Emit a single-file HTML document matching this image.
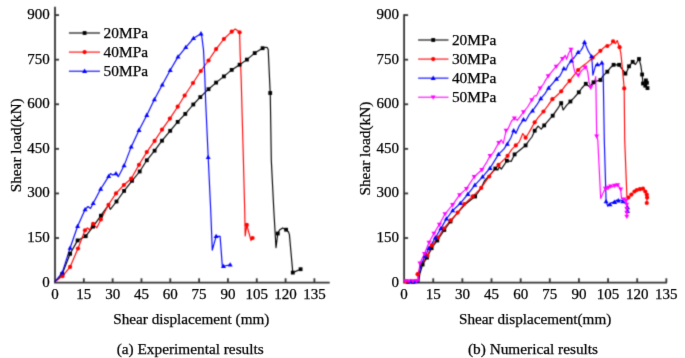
<!DOCTYPE html>
<html><head><meta charset="utf-8"><style>
html,body{margin:0;padding:0;background:#fff;width:685px;height:358px;overflow:hidden}
svg{display:block}
text{font-family:"Liberation Serif", serif;font-size:15px;fill:#000;stroke:#000;stroke-width:0.25px}
.lg{font-size:15.4px}
.cap{font-size:15.3px}
.yl{font-size:15.3px}
.ti{font-size:15.2px}
</style></head><body>
<svg width="685" height="358" viewBox="0 0 685 358">
<defs><filter id="b" filterUnits="userSpaceOnUse" x="0" y="0" width="685" height="358" color-interpolation-filters="sRGB"><feConvolveMatrix order="3" kernelMatrix="0.02768 0.11101 0.02768 0.11101 0.44521 0.11101 0.02768 0.11101 0.02768" divisor="1" edgeMode="duplicate"/></filter><filter id="t" filterUnits="userSpaceOnUse" x="0" y="0" width="685" height="358" color-interpolation-filters="sRGB"><feConvolveMatrix order="3" kernelMatrix="0.00524 0.06192 0.00524 0.06192 0.73137 0.06192 0.00524 0.06192 0.00524" divisor="1" edgeMode="none"/></filter></defs>
<g filter="url(#b)"><rect width="685" height="358" fill="#fff"/>
<path d="M55.0,6.8 V282.6 M54.1,282.6 H329.7" fill="none" stroke="#333" stroke-width="1.8"/>
<line x1="55.0" y1="238.02" x2="59.0" y2="238.02" stroke="#333" stroke-width="1.8"/>
<line x1="55.0" y1="193.43" x2="59.0" y2="193.43" stroke="#333" stroke-width="1.8"/>
<line x1="55.0" y1="148.85" x2="59.0" y2="148.85" stroke="#333" stroke-width="1.8"/>
<line x1="55.0" y1="104.27" x2="59.0" y2="104.27" stroke="#333" stroke-width="1.8"/>
<line x1="55.0" y1="59.68" x2="59.0" y2="59.68" stroke="#333" stroke-width="1.8"/>
<line x1="55.0" y1="15.10" x2="59.0" y2="15.10" stroke="#333" stroke-width="1.8"/>
<line x1="83.82" y1="282.6" x2="83.82" y2="278.3" stroke="#333" stroke-width="1.8"/>
<line x1="112.64" y1="282.6" x2="112.64" y2="278.3" stroke="#333" stroke-width="1.8"/>
<line x1="141.47" y1="282.6" x2="141.47" y2="278.3" stroke="#333" stroke-width="1.8"/>
<line x1="170.29" y1="282.6" x2="170.29" y2="278.3" stroke="#333" stroke-width="1.8"/>
<line x1="199.11" y1="282.6" x2="199.11" y2="278.3" stroke="#333" stroke-width="1.8"/>
<line x1="227.93" y1="282.6" x2="227.93" y2="278.3" stroke="#333" stroke-width="1.8"/>
<line x1="256.76" y1="282.6" x2="256.76" y2="278.3" stroke="#333" stroke-width="1.8"/>
<line x1="285.58" y1="282.6" x2="285.58" y2="278.3" stroke="#333" stroke-width="1.8"/>
<line x1="314.40" y1="282.6" x2="314.40" y2="278.3" stroke="#333" stroke-width="1.8"/>
<path d="M404.1,14.3 V282.6 M403.20000000000005,282.6 H667.0" fill="none" stroke="#333" stroke-width="1.8"/>
<line x1="404.1" y1="238.02" x2="408.1" y2="238.02" stroke="#333" stroke-width="1.8"/>
<line x1="404.1" y1="193.43" x2="408.1" y2="193.43" stroke="#333" stroke-width="1.8"/>
<line x1="404.1" y1="148.85" x2="408.1" y2="148.85" stroke="#333" stroke-width="1.8"/>
<line x1="404.1" y1="104.27" x2="408.1" y2="104.27" stroke="#333" stroke-width="1.8"/>
<line x1="404.1" y1="59.68" x2="408.1" y2="59.68" stroke="#333" stroke-width="1.8"/>
<line x1="404.1" y1="15.10" x2="408.1" y2="15.10" stroke="#333" stroke-width="1.8"/>
<line x1="433.24" y1="282.6" x2="433.24" y2="278.3" stroke="#333" stroke-width="1.8"/>
<line x1="462.38" y1="282.6" x2="462.38" y2="278.3" stroke="#333" stroke-width="1.8"/>
<line x1="491.52" y1="282.6" x2="491.52" y2="278.3" stroke="#333" stroke-width="1.8"/>
<line x1="520.66" y1="282.6" x2="520.66" y2="278.3" stroke="#333" stroke-width="1.8"/>
<line x1="549.79" y1="282.6" x2="549.79" y2="278.3" stroke="#333" stroke-width="1.8"/>
<line x1="578.93" y1="282.6" x2="578.93" y2="278.3" stroke="#333" stroke-width="1.8"/>
<line x1="608.07" y1="282.6" x2="608.07" y2="278.3" stroke="#333" stroke-width="1.8"/>
<line x1="637.21" y1="282.6" x2="637.21" y2="278.3" stroke="#333" stroke-width="1.8"/>
<line x1="666.35" y1="282.6" x2="666.35" y2="278.3" stroke="#333" stroke-width="1.8"/>
<polyline points="54.5,282.1 58.0,279.0 62.2,274.0 70.1,253.8 77.6,240.4 85.7,236.2 93.1,226.6 100.9,215.7 108.5,205.0 110.3,209.3 116.5,201.5 124.1,190.9 132.0,180.8 139.7,171.5 146.8,160.3 154.6,150.7 162.0,140.7 170.2,130.8 177.7,121.9 185.3,113.9 193.3,104.5 200.3,97.1 208.5,89.2 216.1,82.6 223.9,76.4 231.7,69.9 239.6,64.7 246.9,59.6 254.7,53.1 262.6,48.2 265.9,47.3 267.2,47.5 268.2,49.5 270.3,95.2 271.3,160.0 273.8,210.0 276.0,247.6 277.8,233.5 279.5,230.0 282.7,227.9 286.1,229.7 288.5,232.0 289.4,234.6 292.8,272.6 300.6,269.2" fill="none" stroke="#000" stroke-width="1.15" stroke-linejoin="round"/>
<polyline points="54.5,282.1 62.6,276.1 70.1,266.9 78.0,248.5 85.0,230.3 87.5,227.8 89.5,230.0 93.1,223.9 96.8,227.8 100.9,219.4 108.5,204.8 116.0,193.4 123.9,185.0 131.2,178.7 139.0,164.8 146.8,152.1 154.6,140.9 162.0,129.7 169.9,118.6 177.7,106.7 184.7,95.5 193.0,83.0 200.8,71.0 208.5,60.5 216.1,49.1 223.9,39.0 231.7,31.7 235.3,29.0 239.6,32.3 240.2,54.7 241.2,80.0 243.4,160.0 244.7,210.0 245.2,236.0 246.8,224.9 251.0,240.5 252.6,238.0" fill="none" stroke="#ff0000" stroke-width="1.15" stroke-linejoin="round"/>
<polyline points="54.5,282.1 62.2,272.8 70.1,248.0 77.6,226.3 85.1,209.6 88.0,206.5 90.5,208.5 93.2,203.3 100.7,189.0 108.7,176.4 110.5,173.6 112.6,175.0 116.0,173.6 118.3,176.7 121.6,170.5 124.1,165.6 131.2,146.9 139.0,130.2 146.8,115.2 154.4,99.5 162.3,84.8 170.2,70.3 178.0,56.9 185.8,47.3 193.5,38.3 201.0,33.7 201.8,36.2 203.5,50.0 204.8,75.9 205.6,100.0 208.2,157.3 210.7,210.0 212.3,250.2 216.1,236.4 220.1,236.4 222.4,267.0 223.5,266.3 230.2,264.8" fill="none" stroke="#0000ff" stroke-width="1.15" stroke-linejoin="round"/>
<rect x="60.3" y="272.1" width="3.8" height="3.8" fill="#000"/>
<rect x="68.2" y="251.9" width="3.8" height="3.8" fill="#000"/>
<rect x="75.7" y="238.5" width="3.8" height="3.8" fill="#000"/>
<rect x="83.8" y="234.3" width="3.8" height="3.8" fill="#000"/>
<rect x="91.2" y="224.7" width="3.8" height="3.8" fill="#000"/>
<rect x="99.0" y="213.8" width="3.8" height="3.8" fill="#000"/>
<rect x="114.6" y="199.6" width="3.8" height="3.8" fill="#000"/>
<rect x="122.2" y="189.0" width="3.8" height="3.8" fill="#000"/>
<rect x="130.1" y="178.9" width="3.8" height="3.8" fill="#000"/>
<rect x="137.8" y="169.6" width="3.8" height="3.8" fill="#000"/>
<rect x="144.9" y="158.4" width="3.8" height="3.8" fill="#000"/>
<rect x="152.7" y="148.8" width="3.8" height="3.8" fill="#000"/>
<rect x="160.1" y="138.8" width="3.8" height="3.8" fill="#000"/>
<rect x="168.3" y="128.9" width="3.8" height="3.8" fill="#000"/>
<rect x="175.8" y="120.0" width="3.8" height="3.8" fill="#000"/>
<rect x="183.4" y="112.0" width="3.8" height="3.8" fill="#000"/>
<rect x="191.4" y="102.6" width="3.8" height="3.8" fill="#000"/>
<rect x="198.4" y="95.2" width="3.8" height="3.8" fill="#000"/>
<rect x="206.6" y="87.3" width="3.8" height="3.8" fill="#000"/>
<rect x="214.2" y="80.7" width="3.8" height="3.8" fill="#000"/>
<rect x="222.0" y="74.5" width="3.8" height="3.8" fill="#000"/>
<rect x="229.8" y="68.0" width="3.8" height="3.8" fill="#000"/>
<rect x="237.7" y="62.8" width="3.8" height="3.8" fill="#000"/>
<rect x="245.0" y="57.7" width="3.8" height="3.8" fill="#000"/>
<rect x="252.8" y="51.2" width="3.8" height="3.8" fill="#000"/>
<rect x="260.7" y="46.3" width="3.8" height="3.8" fill="#000"/>
<rect x="268.3" y="91.1" width="3.8" height="3.8" fill="#000"/>
<rect x="275.9" y="231.6" width="3.8" height="3.8" fill="#000"/>
<rect x="284.2" y="227.8" width="3.8" height="3.8" fill="#000"/>
<rect x="290.9" y="270.7" width="3.8" height="3.8" fill="#000"/>
<rect x="298.7" y="267.3" width="3.8" height="3.8" fill="#000"/>
<circle cx="62.6" cy="276.1" r="2.1" fill="#ff0000"/>
<circle cx="70.1" cy="266.9" r="2.1" fill="#ff0000"/>
<circle cx="78.0" cy="248.5" r="2.1" fill="#ff0000"/>
<circle cx="85.0" cy="230.3" r="2.1" fill="#ff0000"/>
<circle cx="93.1" cy="223.9" r="2.1" fill="#ff0000"/>
<circle cx="100.9" cy="219.4" r="2.1" fill="#ff0000"/>
<circle cx="108.5" cy="204.8" r="2.1" fill="#ff0000"/>
<circle cx="116.0" cy="193.4" r="2.1" fill="#ff0000"/>
<circle cx="123.9" cy="185.0" r="2.1" fill="#ff0000"/>
<circle cx="131.2" cy="178.7" r="2.1" fill="#ff0000"/>
<circle cx="139.0" cy="164.8" r="2.1" fill="#ff0000"/>
<circle cx="146.8" cy="152.1" r="2.1" fill="#ff0000"/>
<circle cx="154.6" cy="140.9" r="2.1" fill="#ff0000"/>
<circle cx="162.0" cy="129.7" r="2.1" fill="#ff0000"/>
<circle cx="169.9" cy="118.6" r="2.1" fill="#ff0000"/>
<circle cx="177.7" cy="106.7" r="2.1" fill="#ff0000"/>
<circle cx="184.7" cy="95.5" r="2.1" fill="#ff0000"/>
<circle cx="193.0" cy="83.0" r="2.1" fill="#ff0000"/>
<circle cx="200.8" cy="71.0" r="2.1" fill="#ff0000"/>
<circle cx="208.5" cy="60.5" r="2.1" fill="#ff0000"/>
<circle cx="216.1" cy="49.1" r="2.1" fill="#ff0000"/>
<circle cx="223.9" cy="39.0" r="2.1" fill="#ff0000"/>
<circle cx="231.7" cy="31.7" r="2.1" fill="#ff0000"/>
<circle cx="239.6" cy="32.3" r="2.1" fill="#ff0000"/>
<circle cx="246.8" cy="224.9" r="2.1" fill="#ff0000"/>
<circle cx="252.6" cy="238.0" r="2.1" fill="#ff0000"/>
<polygon points="62.2,270.2 59.7,274.5 64.7,274.5" fill="#0000ff"/>
<polygon points="70.1,245.4 67.6,249.7 72.6,249.7" fill="#0000ff"/>
<polygon points="77.6,223.7 75.1,228.0 80.1,228.0" fill="#0000ff"/>
<polygon points="85.1,207.0 82.6,211.3 87.6,211.3" fill="#0000ff"/>
<polygon points="93.2,200.7 90.7,205.0 95.7,205.0" fill="#0000ff"/>
<polygon points="100.7,186.4 98.2,190.7 103.2,190.7" fill="#0000ff"/>
<polygon points="108.7,173.8 106.2,178.1 111.2,178.1" fill="#0000ff"/>
<polygon points="116.0,171.0 113.5,175.3 118.5,175.3" fill="#0000ff"/>
<polygon points="124.1,163.0 121.6,167.3 126.6,167.3" fill="#0000ff"/>
<polygon points="131.2,144.3 128.7,148.6 133.7,148.6" fill="#0000ff"/>
<polygon points="139.0,127.6 136.5,131.9 141.5,131.9" fill="#0000ff"/>
<polygon points="146.8,112.6 144.3,116.9 149.3,116.9" fill="#0000ff"/>
<polygon points="154.4,96.9 151.9,101.2 156.9,101.2" fill="#0000ff"/>
<polygon points="162.3,82.2 159.8,86.5 164.8,86.5" fill="#0000ff"/>
<polygon points="170.2,67.7 167.7,72.0 172.7,72.0" fill="#0000ff"/>
<polygon points="178.0,54.3 175.5,58.6 180.5,58.6" fill="#0000ff"/>
<polygon points="185.8,44.7 183.3,49.0 188.3,49.0" fill="#0000ff"/>
<polygon points="193.5,35.7 191.0,40.0 196.0,40.0" fill="#0000ff"/>
<polygon points="201.0,31.1 198.5,35.4 203.5,35.4" fill="#0000ff"/>
<polygon points="208.2,154.7 205.7,159.0 210.7,159.0" fill="#0000ff"/>
<polygon points="216.1,233.8 213.6,238.1 218.6,238.1" fill="#0000ff"/>
<polygon points="223.5,263.7 221.0,268.0 226.0,268.0" fill="#0000ff"/>
<polygon points="230.2,262.2 227.7,266.5 232.7,266.5" fill="#0000ff"/>
<line x1="68.9" y1="33.00" x2="100.0" y2="33.00" stroke="#000" stroke-width="1.1"/>
<rect x="82.7" y="31.1" width="3.8" height="3.8" fill="#000"/>
<line x1="68.9" y1="52.10" x2="100.0" y2="52.10" stroke="#ff0000" stroke-width="1.1"/>
<circle cx="84.6" cy="52.1" r="2.1" fill="#ff0000"/>
<line x1="68.9" y1="71.20" x2="100.0" y2="71.20" stroke="#0000ff" stroke-width="1.1"/>
<polygon points="84.6,68.6 82.1,72.9 87.1,72.9" fill="#0000ff"/>
<polyline points="404.1,281.9 418.8,281.9 419.8,274.0 422.6,264.5 427.0,257.6 431.6,248.2 437.3,240.5 444.3,230.0 450.5,221.5 457.6,213.0 465.0,204.5 475.1,196.5 481.0,188.5 484.4,181.0 489.0,176.0 495.3,168.5 497.8,170.1 499.5,166.8 501.3,169.1 506.9,160.7 511.1,161.4 514.6,154.4 520.0,150.0 525.6,145.4 529.1,140.5 531.9,137.0 534.7,130.7 538.1,126.2 541.2,129.2 544.2,125.4 548.1,120.8 552.7,115.7 557.3,109.2 561.2,103.1 563.2,110.0 566.5,105.4 570.4,101.5 574.2,97.7 578.8,92.3 581.9,88.0 585.8,83.8 589.6,86.9 593.5,82.3 597.0,81.0 600.4,80.0 602.7,76.3 607.3,71.7 610.9,67.2 613.6,64.8 619.1,64.8 621.4,68.1 623.6,70.8 625.4,73.6 627.2,70.8 629.0,66.3 632.7,61.8 635.4,64.5 639.0,59.0 640.8,65.4 642.1,74.5 643.0,83.5 645.9,80.4 646.9,82.8 645.3,85.7 647.5,88.1" fill="none" stroke="#000" stroke-width="1.15" stroke-linejoin="round"/>
<polyline points="404.1,281.4 418.3,281.4 417.6,274.2 420.5,266.5 423.8,261.0 427.4,255.7 431.8,245.4 438.0,237.7 443.6,228.6 450.6,220.3 457.6,212.6 464.2,204.1 472.8,196.3 481.2,187.9 489.2,176.5 498.5,164.9 504.5,159.2 507.6,155.8 511.6,149.6 515.8,145.4 519.3,141.9 522.8,133.5 525.6,137.7 528.4,133.5 531.2,128.6 534.7,122.3 538.1,117.7 543.5,111.5 548.1,105.4 552.4,99.2 555.8,96.5 561.2,91.3 565.0,86.2 569.6,80.8 574.3,74.8 578.1,70.0 581.3,67.1 584.1,65.0 586.9,62.9 592.7,57.7 596.5,54.5 600.4,50.8 604.7,46.9 607.3,46.0 610.9,44.5 613.1,41.3 615.4,43.6 617.2,40.5 619.6,47.2 620.9,53.6 622.7,71.7 624.2,88.4 624.7,140.0 626.9,196.0 628.4,197.6 631.4,194.6 634.5,191.5 636.8,190.0 639.9,189.2 643.0,188.7 645.3,191.5 646.8,194.6 647.1,197.6 646.8,203.0" fill="none" stroke="#ff0000" stroke-width="1.15" stroke-linejoin="round"/>
<polyline points="404.1,281.6 418.8,281.6 418.6,277.0 420.8,265.5 425.0,256.0 429.0,248.2 435.3,237.7 440.8,228.6 446.4,218.9 452.7,210.5 460.3,203.4 467.9,194.2 474.9,185.1 482.6,176.8 490.0,168.2 498.5,154.4 504.0,148.9 507.3,144.0 510.9,137.7 513.7,130.5 515.8,133.5 519.3,125.8 523.5,119.6 525.6,121.0 529.1,114.7 532.5,110.8 536.6,105.2 540.8,98.6 545.0,93.6 548.6,88.0 552.7,83.3 556.5,79.0 559.7,76.3 563.9,68.5 566.0,69.9 568.0,65.0 571.3,60.8 574.2,57.5 578.1,52.4 580.5,51.0 582.7,47.6 584.5,42.2 588.1,50.8 591.5,56.5 592.2,63.0 592.9,75.2 595.7,65.1 597.4,64.5 599.6,65.1 601.9,62.8 602.8,64.5 603.3,80.0 604.3,140.0 606.1,201.5 607.7,206.1 609.0,204.0 610.0,204.5 611.3,202.5 612.3,203.0 613.5,201.5 614.6,202.2 616.9,200.0 618.4,200.7 620.7,200.0 623.0,201.5 626.1,203.8 627.6,207.6 627.6,211.4" fill="none" stroke="#0000ff" stroke-width="1.15" stroke-linejoin="round"/>
<polyline points="404.1,281.0 418.6,281.0 418.4,276.0 419.9,263.3 424.5,253.8 429.0,242.5 433.9,233.5 439.4,224.4 445.0,214.0 452.6,204.8 459.6,194.9 466.5,188.6 474.2,176.8 481.9,169.8 486.8,162.1 490.1,155.8 493.6,152.3 498.8,142.6 501.2,139.8 503.3,143.5 506.1,130.5 508.2,128.6 511.6,121.0 514.4,118.2 517.2,120.3 520.0,116.8 523.5,112.0 527.6,107.0 531.8,100.0 534.6,95.8 536.6,95.8 540.1,88.2 543.6,84.0 545.0,81.1 548.2,76.0 551.3,72.4 556.2,66.4 559.7,62.9 562.5,58.7 565.3,55.3 566.6,59.4 568.7,53.2 571.0,49.5 572.2,57.3 573.6,67.1 575.0,72.3 578.3,75.2 581.7,70.7 585.1,67.3 586.2,66.2 587.9,72.9 589.0,81.9 590.7,87.5 592.9,84.7 594.6,81.9 595.7,76.5 596.0,90.0 596.7,136.2 597.8,140.0 600.7,198.4 603.0,193.0 605.4,188.4 607.0,189.5 608.5,187.5 610.7,186.1 612.5,187.0 614.6,185.4 616.0,186.0 617.6,185.0 619.0,186.5 620.7,189.2 621.5,198.4 623.8,199.2 626.1,200.0 626.8,205.0 626.8,216.5" fill="none" stroke="#ff00ff" stroke-width="1.15" stroke-linejoin="round"/>
<rect x="406.1" y="280.0" width="3.8" height="3.8" fill="#000"/>
<rect x="411.1" y="280.0" width="3.8" height="3.8" fill="#000"/>
<rect x="420.7" y="262.6" width="3.8" height="3.8" fill="#000"/>
<rect x="425.1" y="255.7" width="3.8" height="3.8" fill="#000"/>
<rect x="429.7" y="246.3" width="3.8" height="3.8" fill="#000"/>
<rect x="435.4" y="238.6" width="3.8" height="3.8" fill="#000"/>
<rect x="442.4" y="228.1" width="3.8" height="3.8" fill="#000"/>
<rect x="448.6" y="219.6" width="3.8" height="3.8" fill="#000"/>
<rect x="473.2" y="194.6" width="3.8" height="3.8" fill="#000"/>
<rect x="493.4" y="166.6" width="3.8" height="3.8" fill="#000"/>
<rect x="505.0" y="158.8" width="3.8" height="3.8" fill="#000"/>
<rect x="512.7" y="152.5" width="3.8" height="3.8" fill="#000"/>
<rect x="523.7" y="143.5" width="3.8" height="3.8" fill="#000"/>
<rect x="532.8" y="128.8" width="3.8" height="3.8" fill="#000"/>
<rect x="542.3" y="123.5" width="3.8" height="3.8" fill="#000"/>
<rect x="550.8" y="113.8" width="3.8" height="3.8" fill="#000"/>
<rect x="559.3" y="101.2" width="3.8" height="3.8" fill="#000"/>
<rect x="568.5" y="99.6" width="3.8" height="3.8" fill="#000"/>
<rect x="576.9" y="90.4" width="3.8" height="3.8" fill="#000"/>
<rect x="583.9" y="81.9" width="3.8" height="3.8" fill="#000"/>
<rect x="591.6" y="80.4" width="3.8" height="3.8" fill="#000"/>
<rect x="598.5" y="78.1" width="3.8" height="3.8" fill="#000"/>
<rect x="605.4" y="69.8" width="3.8" height="3.8" fill="#000"/>
<rect x="611.7" y="62.9" width="3.8" height="3.8" fill="#000"/>
<rect x="617.2" y="62.9" width="3.8" height="3.8" fill="#000"/>
<rect x="623.5" y="71.7" width="3.8" height="3.8" fill="#000"/>
<rect x="627.1" y="64.4" width="3.8" height="3.8" fill="#000"/>
<rect x="630.8" y="59.9" width="3.8" height="3.8" fill="#000"/>
<rect x="637.1" y="57.1" width="3.8" height="3.8" fill="#000"/>
<rect x="640.2" y="72.6" width="3.8" height="3.8" fill="#000"/>
<rect x="641.1" y="81.6" width="3.8" height="3.8" fill="#000"/>
<rect x="644.0" y="78.5" width="3.8" height="3.8" fill="#000"/>
<rect x="645.0" y="80.9" width="3.8" height="3.8" fill="#000"/>
<rect x="643.4" y="83.8" width="3.8" height="3.8" fill="#000"/>
<rect x="645.6" y="86.2" width="3.8" height="3.8" fill="#000"/>
<circle cx="406.0" cy="281.4" r="2.1" fill="#ff0000"/>
<circle cx="411.5" cy="281.4" r="2.1" fill="#ff0000"/>
<circle cx="417.6" cy="274.2" r="2.1" fill="#ff0000"/>
<circle cx="427.4" cy="255.7" r="2.1" fill="#ff0000"/>
<circle cx="431.8" cy="245.4" r="2.1" fill="#ff0000"/>
<circle cx="438.0" cy="237.7" r="2.1" fill="#ff0000"/>
<circle cx="443.6" cy="228.6" r="2.1" fill="#ff0000"/>
<circle cx="450.6" cy="220.3" r="2.1" fill="#ff0000"/>
<circle cx="457.6" cy="212.6" r="2.1" fill="#ff0000"/>
<circle cx="464.2" cy="204.1" r="2.1" fill="#ff0000"/>
<circle cx="472.8" cy="196.3" r="2.1" fill="#ff0000"/>
<circle cx="481.2" cy="187.9" r="2.1" fill="#ff0000"/>
<circle cx="489.2" cy="176.5" r="2.1" fill="#ff0000"/>
<circle cx="498.5" cy="164.9" r="2.1" fill="#ff0000"/>
<circle cx="507.6" cy="155.8" r="2.1" fill="#ff0000"/>
<circle cx="515.8" cy="145.4" r="2.1" fill="#ff0000"/>
<circle cx="525.6" cy="137.7" r="2.1" fill="#ff0000"/>
<circle cx="534.7" cy="122.3" r="2.1" fill="#ff0000"/>
<circle cx="543.5" cy="111.5" r="2.1" fill="#ff0000"/>
<circle cx="552.4" cy="99.2" r="2.1" fill="#ff0000"/>
<circle cx="561.2" cy="91.3" r="2.1" fill="#ff0000"/>
<circle cx="569.6" cy="80.8" r="2.1" fill="#ff0000"/>
<circle cx="578.1" cy="70.0" r="2.1" fill="#ff0000"/>
<circle cx="592.7" cy="57.7" r="2.1" fill="#ff0000"/>
<circle cx="600.4" cy="50.8" r="2.1" fill="#ff0000"/>
<circle cx="607.3" cy="46.0" r="2.1" fill="#ff0000"/>
<circle cx="613.1" cy="41.3" r="2.1" fill="#ff0000"/>
<circle cx="619.6" cy="47.2" r="2.1" fill="#ff0000"/>
<circle cx="624.2" cy="88.4" r="2.1" fill="#ff0000"/>
<circle cx="628.4" cy="197.6" r="2.1" fill="#ff0000"/>
<circle cx="631.4" cy="194.6" r="2.1" fill="#ff0000"/>
<circle cx="634.5" cy="191.5" r="2.1" fill="#ff0000"/>
<circle cx="636.8" cy="190.0" r="2.1" fill="#ff0000"/>
<circle cx="639.9" cy="189.2" r="2.1" fill="#ff0000"/>
<circle cx="643.0" cy="188.7" r="2.1" fill="#ff0000"/>
<circle cx="645.3" cy="191.5" r="2.1" fill="#ff0000"/>
<circle cx="646.8" cy="194.6" r="2.1" fill="#ff0000"/>
<circle cx="647.1" cy="197.6" r="2.1" fill="#ff0000"/>
<circle cx="646.8" cy="203.0" r="2.1" fill="#ff0000"/>
<polygon points="410.5,279.0 408.0,283.3 413.0,283.3" fill="#0000ff"/>
<polygon points="415.0,279.0 412.5,283.3 417.5,283.3" fill="#0000ff"/>
<polygon points="425.0,253.4 422.5,257.7 427.5,257.7" fill="#0000ff"/>
<polygon points="429.0,245.6 426.5,249.9 431.5,249.9" fill="#0000ff"/>
<polygon points="435.3,235.1 432.8,239.4 437.8,239.4" fill="#0000ff"/>
<polygon points="440.8,226.0 438.3,230.3 443.3,230.3" fill="#0000ff"/>
<polygon points="446.4,216.3 443.9,220.6 448.9,220.6" fill="#0000ff"/>
<polygon points="452.7,207.9 450.2,212.2 455.2,212.2" fill="#0000ff"/>
<polygon points="460.3,200.8 457.8,205.1 462.8,205.1" fill="#0000ff"/>
<polygon points="467.9,191.6 465.4,195.9 470.4,195.9" fill="#0000ff"/>
<polygon points="474.9,182.5 472.4,186.8 477.4,186.8" fill="#0000ff"/>
<polygon points="482.6,174.2 480.1,178.5 485.1,178.5" fill="#0000ff"/>
<polygon points="490.0,165.6 487.5,169.9 492.5,169.9" fill="#0000ff"/>
<polygon points="498.5,151.8 496.0,156.1 501.0,156.1" fill="#0000ff"/>
<polygon points="507.3,141.4 504.8,145.7 509.8,145.7" fill="#0000ff"/>
<polygon points="513.7,127.9 511.2,132.2 516.2,132.2" fill="#0000ff"/>
<polygon points="523.5,117.0 521.0,121.3 526.0,121.3" fill="#0000ff"/>
<polygon points="532.5,108.2 530.0,112.5 535.0,112.5" fill="#0000ff"/>
<polygon points="540.8,96.0 538.3,100.3 543.3,100.3" fill="#0000ff"/>
<polygon points="548.6,85.4 546.1,89.7 551.1,89.7" fill="#0000ff"/>
<polygon points="556.5,76.4 554.0,80.7 559.0,80.7" fill="#0000ff"/>
<polygon points="563.9,65.9 561.4,70.2 566.4,70.2" fill="#0000ff"/>
<polygon points="571.3,58.2 568.8,62.5 573.8,62.5" fill="#0000ff"/>
<polygon points="578.1,49.8 575.6,54.1 580.6,54.1" fill="#0000ff"/>
<polygon points="584.5,39.6 582.0,43.9 587.0,43.9" fill="#0000ff"/>
<polygon points="591.5,53.9 589.0,58.2 594.0,58.2" fill="#0000ff"/>
<polygon points="597.4,61.9 594.9,66.2 599.9,66.2" fill="#0000ff"/>
<polygon points="601.9,60.2 599.4,64.5 604.4,64.5" fill="#0000ff"/>
<polygon points="606.1,198.9 603.6,203.2 608.6,203.2" fill="#0000ff"/>
<polygon points="610.0,201.9 607.5,206.2 612.5,206.2" fill="#0000ff"/>
<polygon points="614.6,199.6 612.1,203.9 617.1,203.9" fill="#0000ff"/>
<polygon points="618.4,198.1 615.9,202.4 620.9,202.4" fill="#0000ff"/>
<polygon points="623.0,198.9 620.5,203.2 625.5,203.2" fill="#0000ff"/>
<polygon points="627.6,205.0 625.1,209.3 630.1,209.3" fill="#0000ff"/>
<polygon points="627.6,208.8 625.1,213.1 630.1,213.1" fill="#0000ff"/>
<polygon points="405.5,283.6 403.0,279.3 408.0,279.3" fill="#ff00ff"/>
<polygon points="409.0,283.6 406.5,279.3 411.5,279.3" fill="#ff00ff"/>
<polygon points="413.0,283.6 410.5,279.3 415.5,279.3" fill="#ff00ff"/>
<polygon points="416.4,283.2 413.9,278.9 418.9,278.9" fill="#ff00ff"/>
<polygon points="419.9,265.9 417.4,261.6 422.4,261.6" fill="#ff00ff"/>
<polygon points="424.5,256.4 422.0,252.1 427.0,252.1" fill="#ff00ff"/>
<polygon points="429.0,245.1 426.5,240.8 431.5,240.8" fill="#ff00ff"/>
<polygon points="433.9,236.1 431.4,231.8 436.4,231.8" fill="#ff00ff"/>
<polygon points="439.4,227.0 436.9,222.7 441.9,222.7" fill="#ff00ff"/>
<polygon points="445.0,216.6 442.5,212.3 447.5,212.3" fill="#ff00ff"/>
<polygon points="452.6,207.4 450.1,203.1 455.1,203.1" fill="#ff00ff"/>
<polygon points="459.6,197.5 457.1,193.2 462.1,193.2" fill="#ff00ff"/>
<polygon points="466.5,191.2 464.0,186.9 469.0,186.9" fill="#ff00ff"/>
<polygon points="474.2,179.4 471.7,175.1 476.7,175.1" fill="#ff00ff"/>
<polygon points="481.9,172.4 479.4,168.1 484.4,168.1" fill="#ff00ff"/>
<polygon points="490.1,158.4 487.6,154.1 492.6,154.1" fill="#ff00ff"/>
<polygon points="498.8,145.2 496.3,140.9 501.3,140.9" fill="#ff00ff"/>
<polygon points="506.1,133.1 503.6,128.8 508.6,128.8" fill="#ff00ff"/>
<polygon points="514.4,120.8 511.9,116.5 516.9,116.5" fill="#ff00ff"/>
<polygon points="523.5,114.6 521.0,110.3 526.0,110.3" fill="#ff00ff"/>
<polygon points="531.8,102.6 529.3,98.3 534.3,98.3" fill="#ff00ff"/>
<polygon points="540.1,90.8 537.6,86.5 542.6,86.5" fill="#ff00ff"/>
<polygon points="548.2,78.6 545.7,74.3 550.7,74.3" fill="#ff00ff"/>
<polygon points="556.2,69.0 553.7,64.7 558.7,64.7" fill="#ff00ff"/>
<polygon points="562.5,61.3 560.0,57.0 565.0,57.0" fill="#ff00ff"/>
<polygon points="571.0,52.1 568.5,47.8 573.5,47.8" fill="#ff00ff"/>
<polygon points="578.3,77.8 575.8,73.5 580.8,73.5" fill="#ff00ff"/>
<polygon points="585.1,69.9 582.6,65.6 587.6,65.6" fill="#ff00ff"/>
<polygon points="590.7,90.1 588.2,85.8 593.2,85.8" fill="#ff00ff"/>
<polygon points="596.7,138.8 594.2,134.5 599.2,134.5" fill="#ff00ff"/>
<polygon points="605.4,191.0 602.9,186.7 607.9,186.7" fill="#ff00ff"/>
<polygon points="608.5,190.1 606.0,185.8 611.0,185.8" fill="#ff00ff"/>
<polygon points="610.7,188.7 608.2,184.4 613.2,184.4" fill="#ff00ff"/>
<polygon points="614.6,188.0 612.1,183.7 617.1,183.7" fill="#ff00ff"/>
<polygon points="617.6,187.6 615.1,183.3 620.1,183.3" fill="#ff00ff"/>
<polygon points="620.7,191.8 618.2,187.5 623.2,187.5" fill="#ff00ff"/>
<polygon points="623.8,201.8 621.3,197.5 626.3,197.5" fill="#ff00ff"/>
<polygon points="626.1,203.1 623.6,198.8 628.6,198.8" fill="#ff00ff"/>
<polygon points="626.8,207.1 624.3,202.8 629.3,202.8" fill="#ff00ff"/>
<polygon points="626.8,211.1 624.3,206.8 629.3,206.8" fill="#ff00ff"/>
<polygon points="626.8,215.1 624.3,210.8 629.3,210.8" fill="#ff00ff"/>
<polygon points="626.8,219.1 624.3,214.8 629.3,214.8" fill="#ff00ff"/>
<line x1="418.1" y1="40.00" x2="448.5" y2="40.00" stroke="#000" stroke-width="1.1"/>
<rect x="431.3" y="38.1" width="3.8" height="3.8" fill="#000"/>
<line x1="418.1" y1="59.07" x2="448.5" y2="59.07" stroke="#ff0000" stroke-width="1.1"/>
<circle cx="433.2" cy="59.1" r="2.1" fill="#ff0000"/>
<line x1="418.1" y1="78.14" x2="448.5" y2="78.14" stroke="#0000ff" stroke-width="1.1"/>
<polygon points="433.2,75.5 430.7,79.9 435.7,79.9" fill="#0000ff"/>
<line x1="418.1" y1="97.21" x2="448.5" y2="97.21" stroke="#ff00ff" stroke-width="1.1"/>
<polygon points="433.2,99.8 430.7,95.5 435.7,95.5" fill="#ff00ff"/>
</g>
<g filter="url(#t)">
<text class="t" text-anchor="end" transform="translate(49.80,286.50) scale(1,1.0)">0</text>
<text class="t" text-anchor="end" transform="translate(49.80,241.92) scale(1,1.0)">150</text>
<text class="t" text-anchor="end" transform="translate(49.80,197.33) scale(1,1.0)">300</text>
<text class="t" text-anchor="end" transform="translate(49.80,152.75) scale(1,1.0)">450</text>
<text class="t" text-anchor="end" transform="translate(49.80,108.17) scale(1,1.0)">600</text>
<text class="t" text-anchor="end" transform="translate(49.80,63.58) scale(1,1.0)">750</text>
<text class="t" text-anchor="end" transform="translate(49.80,19.00) scale(1,1.0)">900</text>
<text class="t" text-anchor="middle" transform="translate(55.00,298.70) scale(1,1.0)">0</text>
<text class="t" text-anchor="middle" transform="translate(83.82,298.70) scale(1,1.0)">15</text>
<text class="t" text-anchor="middle" transform="translate(112.64,298.70) scale(1,1.0)">30</text>
<text class="t" text-anchor="middle" transform="translate(141.47,298.70) scale(1,1.0)">45</text>
<text class="t" text-anchor="middle" transform="translate(170.29,298.70) scale(1,1.0)">60</text>
<text class="t" text-anchor="middle" transform="translate(199.11,298.70) scale(1,1.0)">75</text>
<text class="t" text-anchor="middle" transform="translate(227.93,298.70) scale(1,1.0)">90</text>
<text class="t" text-anchor="middle" transform="translate(256.76,298.70) scale(1,1.0)">105</text>
<text class="t" text-anchor="middle" transform="translate(285.58,298.70) scale(1,1.0)">120</text>
<text class="t" text-anchor="middle" transform="translate(314.40,298.70) scale(1,1.0)">135</text>
<text class="ti" text-anchor="middle" transform="translate(191.30,323.50) scale(1,1.0)">Shear displacement (mm)</text>
<text class="cap" text-anchor="middle" transform="translate(190.20,354.30) scale(1,1.0)">(a) Experimental results</text>
<text class="yl" text-anchor="middle" transform="translate(20.80,145.40) rotate(-90) scale(1,1.0)">Shear load(kN)</text>
<text class="t" text-anchor="end" transform="translate(398.90,286.50) scale(1,1.0)">0</text>
<text class="t" text-anchor="end" transform="translate(398.90,241.92) scale(1,1.0)">150</text>
<text class="t" text-anchor="end" transform="translate(398.90,197.33) scale(1,1.0)">300</text>
<text class="t" text-anchor="end" transform="translate(398.90,152.75) scale(1,1.0)">450</text>
<text class="t" text-anchor="end" transform="translate(398.90,108.17) scale(1,1.0)">600</text>
<text class="t" text-anchor="end" transform="translate(398.90,63.58) scale(1,1.0)">750</text>
<text class="t" text-anchor="end" transform="translate(398.90,19.00) scale(1,1.0)">900</text>
<text class="t" text-anchor="middle" transform="translate(404.10,298.70) scale(1,1.0)">0</text>
<text class="t" text-anchor="middle" transform="translate(433.24,298.70) scale(1,1.0)">15</text>
<text class="t" text-anchor="middle" transform="translate(462.38,298.70) scale(1,1.0)">30</text>
<text class="t" text-anchor="middle" transform="translate(491.52,298.70) scale(1,1.0)">45</text>
<text class="t" text-anchor="middle" transform="translate(520.66,298.70) scale(1,1.0)">60</text>
<text class="t" text-anchor="middle" transform="translate(549.79,298.70) scale(1,1.0)">75</text>
<text class="t" text-anchor="middle" transform="translate(578.93,298.70) scale(1,1.0)">90</text>
<text class="t" text-anchor="middle" transform="translate(608.07,298.70) scale(1,1.0)">105</text>
<text class="t" text-anchor="middle" transform="translate(637.21,298.70) scale(1,1.0)">120</text>
<text class="t" text-anchor="middle" transform="translate(666.35,298.70) scale(1,1.0)">135</text>
<text class="ti" text-anchor="middle" transform="translate(535.15,323.50) scale(1,1.0)">Shear displacement(mm)</text>
<text class="cap" text-anchor="middle" transform="translate(533.00,354.30) scale(1,1.0)">(b) Numerical results</text>
<text class="yl" text-anchor="middle" transform="translate(370.30,148.60) rotate(-90) scale(1,1.0)">Shear load(kN)</text>
<text class="lg" transform="translate(103.60,37.90) scale(1,1.0)">20MPa</text>
<text class="lg" transform="translate(103.60,57.00) scale(1,1.0)">40MPa</text>
<text class="lg" transform="translate(103.60,76.10) scale(1,1.0)">50MPa</text>
<text class="lg" transform="translate(451.90,44.90) scale(1,1.0)">20MPa</text>
<text class="lg" transform="translate(451.90,63.97) scale(1,1.0)">30MPa</text>
<text class="lg" transform="translate(451.90,83.04) scale(1,1.0)">40MPa</text>
<text class="lg" transform="translate(451.90,102.11) scale(1,1.0)">50MPa</text>
</g></svg>
</body></html>
